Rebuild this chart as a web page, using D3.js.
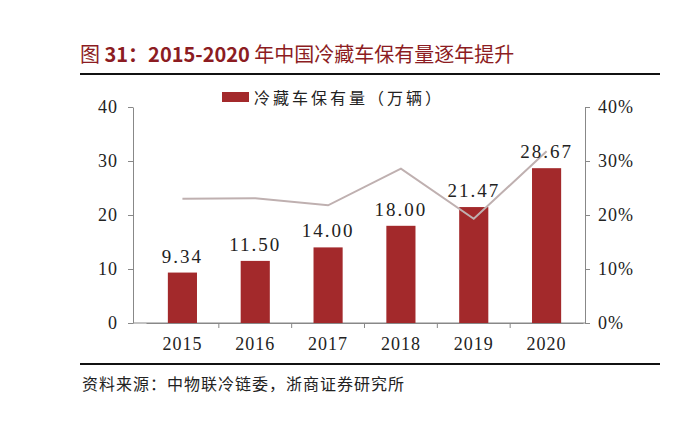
<!DOCTYPE html>
<html><head><meta charset="utf-8">
<script src="https://cdn.jsdelivr.net/npm/d3@7"></script>
<style>body{margin:0;background:#fff}svg{display:block}</style>
</head><body>
<svg id="c" width="700" height="424"></svg>
<script>
const years = ['2015', '2016', '2017', '2018', '2019', '2020']
const stock = [9.34, 11.5, 14.0, 18.0, 21.47, 28.67]
const growth = [0.230, 0.231, 0.218, 0.286, 0.193, 0.318]
const leftTicks = [0, 10, 20, 30, 40]
const rightTicks = [0, 0.1, 0.2, 0.3, 0.4]

const svg = d3.select('#c')
const x0 = 133, x1 = 585, yB = 323, yT = 107
const serif = "'Liberation Serif','DejaVu Serif',serif"
const cjk = "'Noto Sans CJK SC',sans-serif"

// title + rules
svg.append('text').attr('x', 80).attr('y', 62).attr('fill', '#8c1c22')
  .style('font-family', cjk).style('font-size', '20px')
  .html('图 <tspan font-weight="bold">31：2015-2020</tspan> 年中国冷藏车保有量逐年提升')
svg.append('line').attr('x1', 80).attr('x2', 660).attr('y1', 74).attr('y2', 74)
  .attr('stroke', '#111').attr('stroke-width', 2)
svg.append('line').attr('x1', 80).attr('x2', 660).attr('y1', 364).attr('y2', 364)
  .attr('stroke', '#111').attr('stroke-width', 2)
svg.append('text').attr('x', 82).attr('y', 390).attr('fill', '#222')
  .style('font-family', cjk).style('font-size', '16px').style('letter-spacing', '1px')
  .text('资料来源：中物联冷链委，浙商证券研究所')

// bars sit slightly right of the axis start, as in the source
const band = d3.scaleBand().domain(years).range([146, 583])
const x = d3.scaleBand().domain(years).range([146, 583]).paddingInner(0.6).paddingOuter(0.3)
const y = d3.scaleLinear().domain([0, 40]).range([yB, yT])
const y2 = d3.scaleLinear().domain([0, 0.4]).range([yB, yT])

const styleAxis = (g) => {
  g.select('.domain').attr('stroke', '#888')
  g.selectAll('.tick line').attr('stroke', '#888')
  g.selectAll('text').attr('fill', '#222').style('font-family', serif).style('font-size', '18px').style('letter-spacing', '1px')
}

svg.append('g').attr('transform', `translate(${x0},0)`)
  .call(d3.axisLeft(y).tickValues(leftTicks).tickSize(5).tickSizeOuter(0).tickPadding(10))
  .call(styleAxis)
svg.append('g').attr('transform', `translate(${x1},0)`)
  .call(d3.axisRight(y2).tickValues(rightTicks).tickSize(5).tickSizeOuter(0).tickPadding(8).tickFormat(d3.format('.0%')))
  .call(styleAxis)
svg.append('line').attr('x1', x0).attr('x2', x1).attr('y1', yB).attr('y2', yB).attr('stroke', '#888')
const xa = svg.append('g').attr('transform', `translate(0,${yB})`)
  .call(d3.axisBottom(band).tickSize(0).tickSizeOuter(0).tickPadding(14))
  .call(styleAxis)
xa.selectAll('.sep').data(years.slice(1)).enter().append('line')
  .attr('x1', d => band(d)).attr('x2', d => band(d)).attr('y1', 0).attr('y2', 5).attr('stroke', '#888')

svg.selectAll('rect.bar').data(years).enter().append('rect')
  .attr('x', d => x(d)).attr('width', x.bandwidth())
  .attr('y', (d, i) => y(stock[i])).attr('height', (d, i) => yB - y(stock[i]))
  .attr('fill', '#a3292b')

svg.append('path').datum(growth)
  .attr('d', d3.line().x((d, i) => band(years[i]) + band.bandwidth() / 2).y(d => y2(d)))
  .attr('fill', 'none').attr('stroke', '#bfb0b0').attr('stroke-width', 2)

svg.selectAll('text.lbl').data(years).enter().append('text')
  .attr('x', d => x(d) + x.bandwidth() / 2).attr('y', (d, i) => y(stock[i]) - 10)
  .attr('text-anchor', 'middle').attr('fill', '#222')
  .style('font-family', serif).style('font-size', '19px').style('letter-spacing', '2px')
  .text((d, i) => stock[i].toFixed(2))

// legend
svg.append('rect').attr('x', 222).attr('y', 92).attr('width', 27).attr('height', 10).attr('fill', '#a3292b')
svg.append('text').attr('x', 254).attr('y', 104).attr('fill', '#222')
  .style('font-family', cjk).style('font-size', '16px').style('letter-spacing', '3px')
  .text('冷藏车保有量（万辆）')
</script>
</body></html>
